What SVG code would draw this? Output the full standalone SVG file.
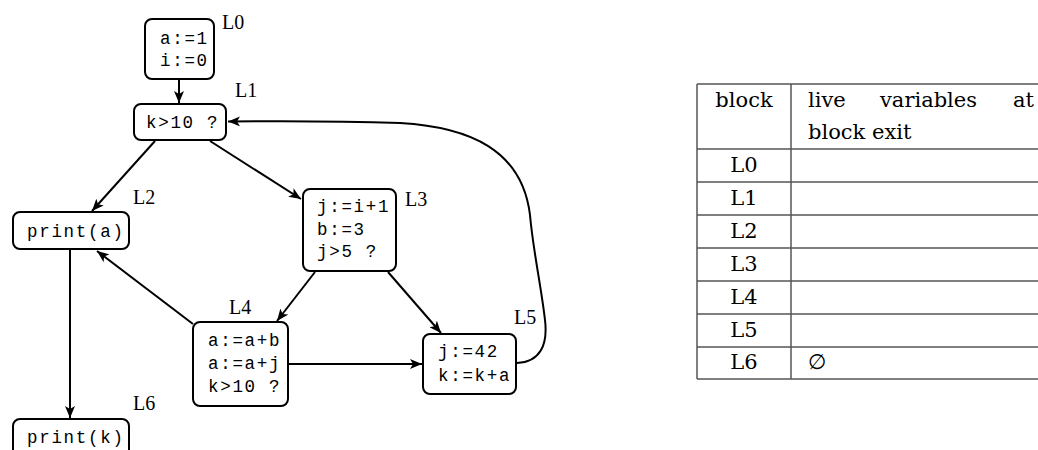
<svg xmlns="http://www.w3.org/2000/svg" width="1038" height="450" viewBox="0 0 1038 450">
<style>
.box{fill:#fff;stroke:#000;stroke-width:2}
.code{font-family:"Liberation Mono",monospace;font-size:17.5px;letter-spacing:1.7px;fill:#000}
.lab{font-family:"Liberation Serif",serif;font-size:20px;fill:#000}
.edge{fill:none;stroke:#000;stroke-width:2}
.tl{stroke:#555;stroke-width:1.5;fill:none}
.tt{font-family:"DejaVu Serif",serif;font-size:21px;fill:#000}
</style>
<defs>
<marker id="ah" viewBox="0 0 12 10" refX="12" refY="5" markerWidth="12" markerHeight="10" orient="auto" markerUnits="userSpaceOnUse">
<path d="M0,0 L12,5 L0,10 L3,5 z" fill="#000"/>
</marker>
</defs>
<g id="connectors">
<line class="edge" x1="179" y1="80" x2="179" y2="103" marker-end="url(#ah)"/>
<line class="edge" x1="155" y1="141" x2="92" y2="211" marker-end="url(#ah)"/>
<line class="edge" x1="210" y1="141" x2="301" y2="199" marker-end="url(#ah)"/>
<line class="edge" x1="193" y1="324" x2="97" y2="251" marker-end="url(#ah)"/>
<line class="edge" x1="315" y1="272" x2="277" y2="321" marker-end="url(#ah)"/>
<line class="edge" x1="388" y1="272" x2="441" y2="333" marker-end="url(#ah)"/>
<line class="edge" x1="288" y1="364" x2="422" y2="364" marker-end="url(#ah)"/>
<line class="edge" x1="70" y1="250" x2="70" y2="418" marker-end="url(#ah)"/>
<path class="edge" d="M517,363 C540,362 548,345 545,320 C541,285 533,250 530,215 C522,150 470,127 400,123 C340,121 280,121 228,121.5" marker-end="url(#ah)"/>
</g>
<g id="L0">
<rect class="box" x="145" y="19" width="69" height="60" rx="7"/>
<text class="code" x="160" y="44">a:=1</text>
<text class="code" x="160" y="66">i:=0</text>
<text class="lab" x="222" y="29">L0</text>
</g>
<g id="L1">
<rect class="box" x="134" y="104" width="92" height="36" rx="7"/>
<text class="code" x="146" y="128">k&gt;10 ?</text>
<text class="lab" x="235" y="97">L1</text>
</g>
<g id="L2">
<rect class="box" x="13" y="212" width="116" height="37" rx="7"/>
<text class="code" x="27" y="237">print(a)</text>
<text class="lab" x="133" y="204">L2</text>
</g>
<g id="L3">
<rect class="box" x="303" y="189" width="93" height="82" rx="7"/>
<text class="code" x="317" y="212">j:=i+1</text>
<text class="code" x="317" y="234.5">b:=3</text>
<text class="code" x="317" y="257">j&gt;5 ?</text>
<text class="lab" x="405" y="206">L3</text>
</g>
<g id="L4">
<rect class="box" x="193" y="322" width="95" height="84" rx="7"/>
<text class="code" x="208" y="346">a:=a+b</text>
<text class="code" x="208" y="369">a:=a+j</text>
<text class="code" x="208" y="391.5">k&gt;10 ?</text>
<text class="lab" x="229" y="314">L4</text>
</g>
<g id="L5">
<rect class="box" x="423" y="334" width="93" height="60" rx="7"/>
<text class="code" x="438" y="357">j:=42</text>
<text class="code" x="438" y="380.5">k:=k+a</text>
<text class="lab" x="514" y="324">L5</text>
</g>
<g id="L6">
<rect class="box" x="13" y="419" width="116" height="40" rx="7"/>
<text class="code" x="27" y="443">print(k)</text>
<text class="lab" x="133" y="410">L6</text>
</g>
<g id="table">
<line class="tl" x1="697" y1="84" x2="1038" y2="84"/>
<line class="tl" x1="697" y1="149" x2="1038" y2="149"/>
<line class="tl" x1="697" y1="182" x2="1038" y2="182"/>
<line class="tl" x1="697" y1="215" x2="1038" y2="215"/>
<line class="tl" x1="697" y1="248" x2="1038" y2="248"/>
<line class="tl" x1="697" y1="281" x2="1038" y2="281"/>
<line class="tl" x1="697" y1="314" x2="1038" y2="314"/>
<line class="tl" x1="697" y1="347" x2="1038" y2="347"/>
<line class="tl" x1="697" y1="379" x2="1038" y2="379"/>
<line class="tl" x1="697" y1="84" x2="697" y2="379"/>
<line class="tl" x1="791" y1="84" x2="791" y2="379"/>
<text class="tt" x="744" y="107" text-anchor="middle">block</text>
<text class="tt" x="808" y="107">live</text>
<text class="tt" x="880" y="107">variables</text>
<text class="tt" x="1013" y="107">at</text>
<text class="tt" x="808" y="139">block exit</text>
<text class="tt" x="744" y="172" text-anchor="middle">L0</text>
<text class="tt" x="744" y="205" text-anchor="middle">L1</text>
<text class="tt" x="744" y="238" text-anchor="middle">L2</text>
<text class="tt" x="744" y="271" text-anchor="middle">L3</text>
<text class="tt" x="744" y="304" text-anchor="middle">L4</text>
<text class="tt" x="744" y="337" text-anchor="middle">L5</text>
<text class="tt" x="744" y="369" text-anchor="middle">L6</text>
<text class="tt" x="808" y="369">∅</text>
</g>
</svg>
